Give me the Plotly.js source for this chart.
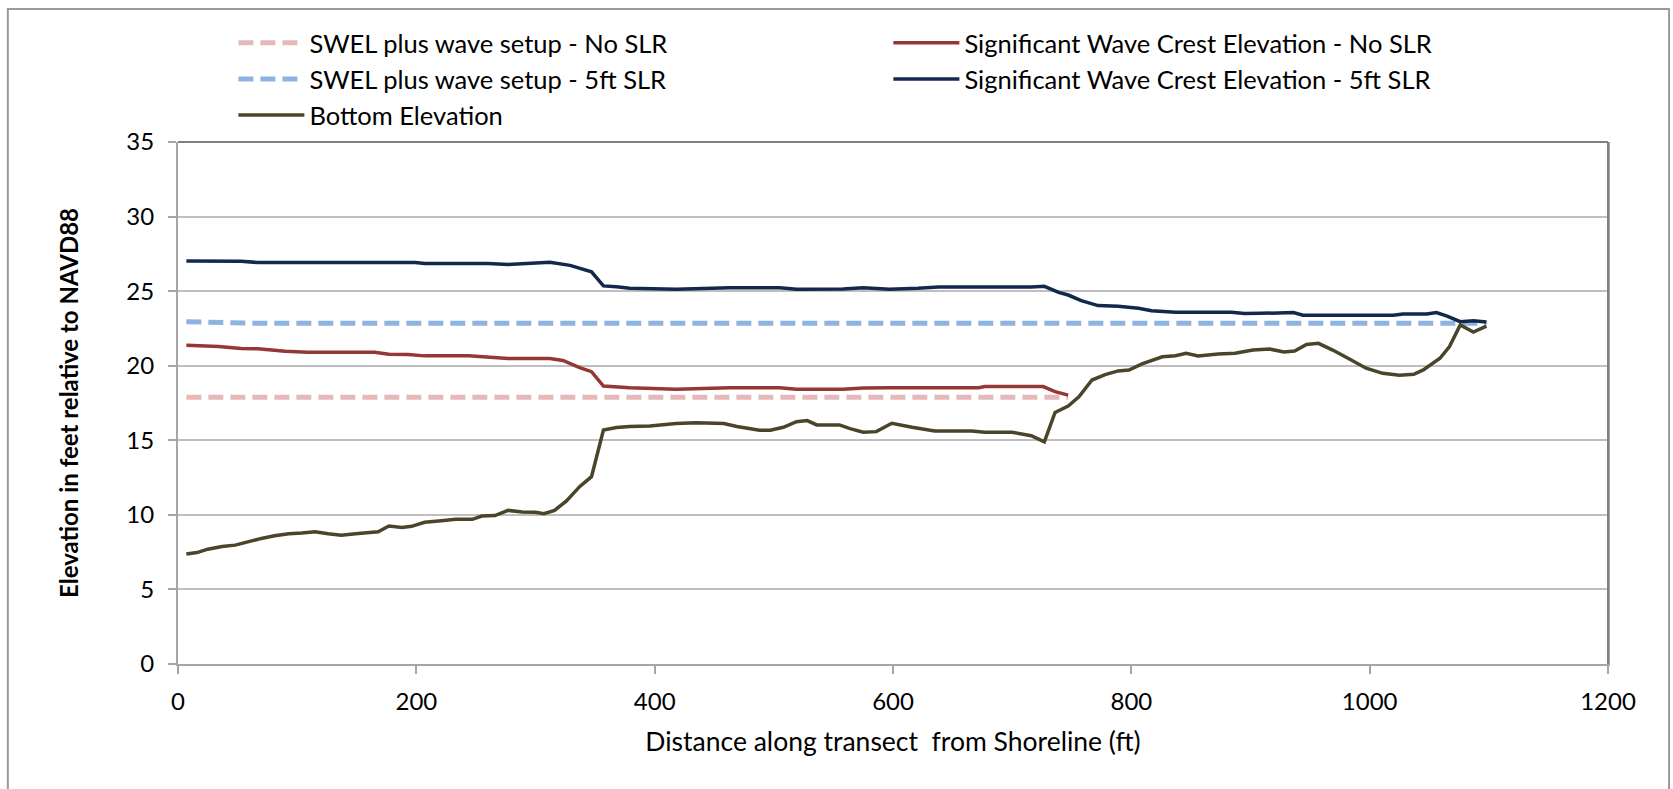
<!DOCTYPE html>
<html>
<head>
<meta charset="utf-8">
<script src="https://cdn.plot.ly/plotly-3.0.1.min.js"></script>
<style>
  html, body { margin: 0; padding: 0; background: #ffffff; }
  #chart { width: 1673px; height: 789px; }
</style>
</head>
<body>
<div id="chart"></div>
<script>
// ---- Data ----
const seriesNames = [
  "SWEL plus wave setup - No SLR",
  "Significant Wave Crest Elevation - No SLR",
  "SWEL plus wave setup - 5ft SLR",
  "Significant Wave Crest Elevation - 5ft SLR",
  "Bottom Elevation"
];

const swelNoSlrX = [7, 747];
const swelNoSlrY = [17.88, 17.88];

const sigNoSlrX = [7, 34, 53, 67, 90, 109, 165, 177, 193, 207, 244, 277, 300, 312, 323, 337, 347, 357, 379, 418, 463, 505, 519, 558, 575, 597, 672, 677, 726, 736, 747];
const sigNoSlrY = [21.37, 21.28, 21.15, 21.13, 20.97, 20.9, 20.9, 20.77, 20.75, 20.66, 20.66, 20.48, 20.48, 20.48, 20.35, 19.87, 19.6, 18.64, 18.53, 18.42, 18.53, 18.53, 18.42, 18.42, 18.51, 18.53, 18.53, 18.6, 18.6, 18.26, 18.03];

const swel5ftX = [7, 33, 60, 1098];
const swel5ftY = [22.95, 22.9, 22.85, 22.85];

const sig5ftX = [7, 30, 53, 67, 120, 199, 207, 260, 277, 300, 312, 329, 347, 357, 368, 379, 418, 463, 505, 519, 558, 575, 597, 621, 638, 716, 727, 739, 747, 758, 772, 789, 806, 817, 837, 884, 895, 908, 936, 944, 1020, 1028, 1048, 1056, 1065, 1076, 1087, 1098];
const sig5ftY = [27.02, 27.02, 27.0, 26.92, 26.92, 26.92, 26.85, 26.85, 26.78, 26.9, 26.93, 26.73, 26.3, 25.35, 25.3, 25.19, 25.12, 25.23, 25.23, 25.12, 25.14, 25.23, 25.12, 25.19, 25.28, 25.28, 25.32, 24.92, 24.74, 24.36, 24.03, 23.98, 23.85, 23.69, 23.58, 23.58, 23.5, 23.51, 23.56, 23.38, 23.38, 23.47, 23.47, 23.56, 23.33, 22.95, 23.02, 22.93];

const bottomX = [7, 16, 25, 37, 48, 59, 70, 81, 93, 104, 115, 126, 137, 149, 160, 168, 177, 188, 196, 207, 221, 233, 247, 255, 266, 277, 289, 300, 307, 316, 326, 337, 347, 357, 368, 379, 396, 418, 435, 452, 458, 469, 488, 497, 508, 519, 528, 536, 555, 564, 575, 586, 599, 616, 635, 666, 677, 700, 716, 727, 736, 747, 756, 767, 778, 789, 798, 809, 826, 837, 846, 856, 873, 887, 902, 916, 928, 937, 947, 957, 969, 983, 997, 1011, 1025, 1037, 1045, 1059, 1067, 1076, 1087, 1098];
const bottomY = [7.37, 7.47, 7.7, 7.88, 7.97, 8.22, 8.42, 8.6, 8.73, 8.78, 8.87, 8.73, 8.64, 8.73, 8.82, 8.87, 9.25, 9.16, 9.23, 9.5, 9.6, 9.7, 9.7, 9.92, 9.95, 10.3, 10.19, 10.17, 10.08, 10.3, 10.93, 11.89, 12.56, 15.69, 15.85, 15.92, 15.96, 16.12, 16.18, 16.12, 16.12, 15.92, 15.67, 15.67, 15.87, 16.25, 16.32, 16.03, 16.03, 15.78, 15.54, 15.58, 16.14, 15.87, 15.62, 15.62, 15.54, 15.54, 15.31, 14.9, 16.87, 17.3, 17.92, 19.04, 19.4, 19.65, 19.71, 20.12, 20.6, 20.67, 20.83, 20.65, 20.79, 20.83, 21.05, 21.12, 20.92, 20.99, 21.43, 21.5, 21.05, 20.45, 19.83, 19.49, 19.36, 19.43, 19.72, 20.5, 21.28, 22.73, 22.26, 22.66];

const xTickVals = [0, 200, 400, 600, 800, 1000, 1200];
const yTickVals = [0, 5, 10, 15, 20, 25, 30, 35];

const xTitle = "Distance along transect  from Shoreline (ft)";
const yTitle = "Elevation in feet relative to NAVD88";

// ---- Styling ----
const labelFont = "Lato, Carlito, Liberation Sans, Arial, sans-serif";
const dashPattern = "15px,7px";

const traces = [
  { x: swelNoSlrX, y: swelNoSlrY, name: seriesNames[0], mode: "lines",
    line: { color: "#e6b9b8", width: 5, dash: dashPattern } },
  { x: sigNoSlrX, y: sigNoSlrY, name: seriesNames[1], mode: "lines",
    line: { color: "#953735", width: 3.5 } },
  { x: swel5ftX, y: swel5ftY, name: seriesNames[2], mode: "lines",
    line: { color: "#8db3e2", width: 5, dash: dashPattern } },
  { x: sig5ftX, y: sig5ftY, name: seriesNames[3], mode: "lines",
    line: { color: "#13294b", width: 3.5 } },
  { x: bottomX, y: bottomY, name: seriesNames[4], mode: "lines",
    line: { color: "#4a452a", width: 3.5 } }
];

const layout = {
  width: 1673,
  height: 789,
  paper_bgcolor: "#ffffff",
  plot_bgcolor: "#ffffff",
  margin: { l: 178, r: 65, t: 142, b: 125, autoexpand: false },
  showlegend: true,
  legend: {
    orientation: "h",
    xref: "container", yref: "container",
    x: 0.1395, y: 0.975,
    xanchor: "left", yanchor: "top",
    entrywidth: 574, entrywidthmode: "pixels",
    itemwidth: 66,
    tracegroupgap: 0,
    traceorder: "normal",
    font: { family: labelFont, size: 25.5, color: "#000000" },
    bgcolor: "rgba(0,0,0,0)"
  },
  xaxis: {
    range: [0, 1200],
    tickvals: xTickVals,
    ticks: "outside",
    ticklen: 8,
    tickwidth: 2,
    tickcolor: "#a6a6a6",
    ticklabelstandoff: 7,
    showline: true,
    linecolor: "#a6a6a6",
    linewidth: 2,
    mirror: false,
    showgrid: false,
    zeroline: false,
    tickfont: { family: labelFont, size: 24, color: "#000000" },
    title: { text: xTitle, standoff: 19, font: { family: labelFont, size: 26.5, color: "#000000" } }
  },
  yaxis: {
    range: [0, 35],
    tickvals: yTickVals,
    ticks: "outside",
    ticklen: 8,
    tickwidth: 2,
    tickcolor: "#a6a6a6",
    ticklabelstandoff: 9,
    showline: true,
    linecolor: "#a6a6a6",
    linewidth: 2,
    mirror: true,
    showgrid: true,
    gridcolor: "#bfbfbf",
    gridwidth: 2,
    zeroline: false,
    tickfont: { family: labelFont, size: 24, color: "#000000" },
    title: { text: yTitle, standoff: 41, font: { family: labelFont, size: 24, color: "#000000", weight: "bold" } }
  },
  shapes: [
    { type: "line", xref: "paper", yref: "paper", x0: 1, x1: 1, y0: 0, y1: 1,
      line: { color: "#808080", width: 2 } },
    { type: "line", xref: "paper", yref: "paper", x0: 0, x1: 1, y0: 1, y1: 1,
      line: { color: "#808080", width: 2 } },
    { type: "rect", xref: "paper", yref: "paper",
      x0: -0.119, x1: 1.0427, y0: -0.26, y1: 1.2548,
      line: { color: "#9a9a9a", width: 2 }, fillcolor: "rgba(0,0,0,0)", layer: "below" }
  ]
};

Plotly.newPlot("chart", traces, layout, { displayModeBar: false, staticPlot: true });
</script>
</body>
</html>
